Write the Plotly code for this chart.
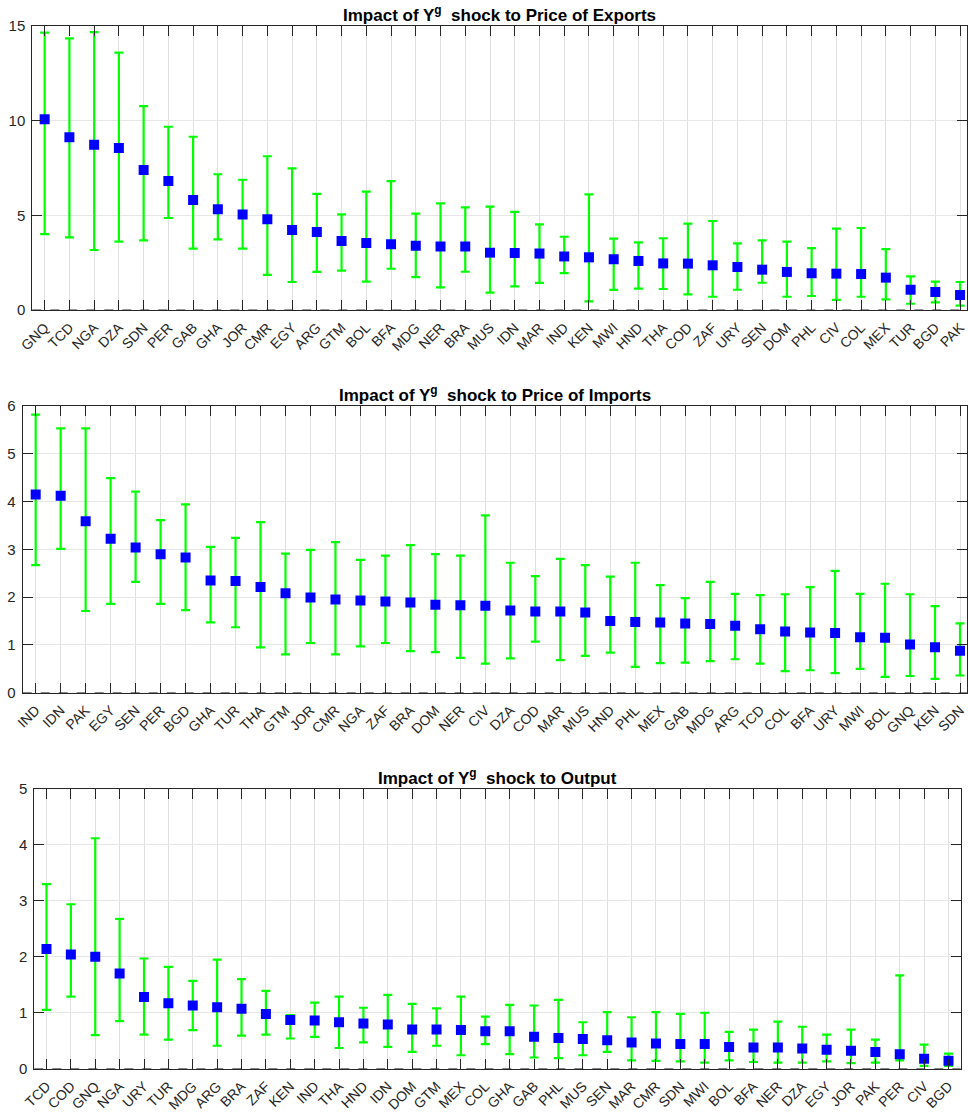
import plotly.graph_objects as go

# ---------------- Panel 1: Price of Exports ----------------
exp_countries = ["GNQ","TCD","NGA","DZA","SDN","PER","GAB","GHA","JOR","CMR","EGY","ARG","GTM","BOL","BFA","MDG","NER","BRA","MUS",
                 "IDN","MAR","IND","KEN","MWI","HND","THA","COD","ZAF","URY","SEN","DOM","PHL","CIV","COL","MEX","TUR","BGD","PAK"]
exp_mid = [10.07,9.12,8.73,8.56,7.39,6.81,5.81,5.32,5.05,4.79,4.23,4.12,3.64,3.54,3.47,3.40,3.36,3.35,3.03,
           3.01,2.98,2.83,2.78,2.68,2.59,2.46,2.45,2.36,2.27,2.13,2.01,1.94,1.92,1.90,1.71,1.07,0.95,0.79]
exp_hi = [14.65,14.35,14.68,13.59,10.77,9.68,9.15,7.17,6.88,8.12,7.48,6.13,5.05,6.25,6.81,5.09,5.63,5.42,5.46,
          5.18,4.52,3.87,6.11,3.77,3.57,3.79,4.56,4.70,3.52,3.68,3.61,3.27,4.30,4.33,3.22,1.78,1.50,1.48]
exp_lo = [4.01,3.84,3.17,3.61,3.68,4.86,3.24,3.73,3.24,1.85,1.48,2.01,2.08,1.50,2.18,1.74,1.20,2.02,0.92,
          1.25,1.43,1.95,0.46,1.06,1.13,1.11,0.83,0.70,1.07,1.44,0.70,0.74,0.53,0.70,0.56,0.33,0.40,0.23]

# ---------------- Panel 2: Price of Imports ----------------
imp_countries = ["IND","IDN","PAK","EGY","SEN","PER","BGD","GHA","TUR","THA","GTM","JOR","CMR","NGA","ZAF","BRA","DOM","NER","CIV",
                 "DZA","COD","MAR","MUS","HND","PHL","MEX","GAB","MDG","ARG","TCD","COL","BFA","URY","MWI","BOL","GNQ","KEN","SDN"]
imp_mid = [4.15,4.12,3.59,3.22,3.04,2.90,2.83,2.35,2.34,2.21,2.08,1.99,1.95,1.93,1.91,1.89,1.84,1.83,1.82,
           1.72,1.70,1.70,1.68,1.50,1.48,1.47,1.45,1.44,1.40,1.33,1.28,1.26,1.25,1.16,1.15,1.01,0.95,0.88]
imp_hi = [5.82,5.53,5.53,4.49,4.21,3.61,3.94,3.05,3.24,3.57,2.91,2.99,3.15,2.78,2.87,3.09,2.90,2.87,3.71,
          2.72,2.44,2.80,2.67,2.43,2.72,2.25,1.98,2.32,2.07,2.04,2.06,2.21,2.55,2.07,2.28,2.06,1.81,1.45]
imp_lo = [2.67,3.01,1.71,1.86,2.32,1.86,1.73,1.47,1.37,0.95,0.80,1.04,0.80,0.97,1.04,0.87,0.85,0.73,0.61,
          0.72,1.07,0.68,0.77,0.84,0.54,0.62,0.63,0.66,0.70,0.61,0.45,0.47,0.41,0.50,0.33,0.35,0.29,0.36]

# ---------------- Panel 3: Output ----------------
out_countries = ["TCD","COD","GNQ","NGA","URY","TUR","MDG","ARG","BRA","ZAF","KEN","IND","THA","HND","IDN","DOM","GTM","MEX","COL",
                 "GHA","GAB","PHL","MUS","SEN","MAR","CMR","SDN","MWI","BOL","BFA","NER","DZA","EGY","JOR","PAK","PER","CIV","BGD"]
out_mid = [2.14,2.04,2.00,1.70,1.28,1.17,1.13,1.10,1.07,0.98,0.87,0.86,0.83,0.81,0.79,0.70,0.70,0.69,0.67,
           0.67,0.57,0.55,0.53,0.51,0.47,0.45,0.44,0.44,0.39,0.38,0.38,0.36,0.34,0.32,0.30,0.26,0.18,0.14]
out_hi = [3.30,2.94,4.12,2.68,1.97,1.82,1.57,1.95,1.60,1.39,0.96,1.18,1.29,1.09,1.32,1.16,1.08,1.29,0.93,
          1.14,1.13,1.23,0.83,1.01,0.92,1.01,0.98,1.00,0.66,0.70,0.84,0.75,0.61,0.70,0.52,1.67,0.43,0.27]
out_lo = [1.05,1.29,0.60,0.85,0.61,0.52,0.69,0.41,0.59,0.61,0.54,0.57,0.37,0.47,0.39,0.30,0.41,0.24,0.44,
          0.26,0.20,0.19,0.24,0.30,0.15,0.14,0.13,0.11,0.15,0.12,0.11,0.11,0.13,0.10,0.11,0.15,0.05,0.05]

titles = ["Impact of Y<sup>g</sup>\u00a0 shock to Price of Exports",
          "Impact of Y<sup>g</sup>\u00a0 shock to Price of Imports",
          "Impact of Y<sup>g</sup>\u00a0 shock to Output"]

W, H = 968, 1113
# pixel boxes: left, right, top, bottom
boxes = [(32.3, 967.0, 26.0, 310.0), (22.7, 967.0, 406.0, 692.7), (34.3, 960.7, 789.0, 1068.7)]
yranges = [[0, 15], [0, 6], [0, 5]]
ydticks = [5, 1, 1]
xranges = [[-0.5, 37.28], [-0.52, 37.28], [-0.5, 37.5]]

panels = [(exp_countries, exp_mid, exp_hi, exp_lo),
          (imp_countries, imp_mid, imp_hi, imp_lo),
          (out_countries, out_mid, out_hi, out_lo)]

fig = go.Figure()
axcol = "#262626"
font_family = "Liberation Sans, Arial, Helvetica, sans-serif"

for i, (cats, mid, hi, lo) in enumerate(panels):
    n = i + 1
    xa = "x" if n == 1 else f"x{n}"
    ya = "y" if n == 1 else f"y{n}"
    plus = [h - m for h, m in zip(hi, mid)]
    minus = [m - l for m, l in zip(mid, lo)]
    fig.add_trace(go.Scatter(
        x=cats, y=mid, mode="markers", xaxis=xa, yaxis=ya, showlegend=False,
        marker=dict(symbol="square", size=10, color="#0000ff", line=dict(width=0)),
        error_y=dict(type="data", symmetric=False, array=plus, arrayminus=minus,
                     color="#00ff00", thickness=2.2, width=4.5),
    ))
    l, r, t, b = boxes[i]
    xdom = [l / W, r / W]
    ydom = [1 - b / H, 1 - t / H]
    common_x = dict(domain=xdom, anchor=ya, range=xranges[i], type="category",
                    showline=True, linecolor=axcol, linewidth=1, mirror="ticks",
                    ticks="inside", ticklen=10, tickcolor=axcol, tickwidth=1,
                    showgrid=True, gridcolor="#e0e0e0", gridwidth=1,
                    tickangle=-45, tickfont=dict(size=14, color=axcol, family=font_family),
                    ticklabelstandoff=3,
                    automargin=False, zeroline=False, fixedrange=True)
    common_y = dict(domain=ydom, anchor=xa, range=yranges[i], dtick=ydticks[i], tick0=0,
                    showline=True, linecolor=axcol, linewidth=1, mirror="ticks",
                    ticks="inside", ticklen=10, tickcolor=axcol, tickwidth=1,
                    showgrid=True, gridcolor="#e6e6e6", gridwidth=1,
                    tickfont=dict(size=15, color=axcol, family=font_family),
                    ticklabelstandoff=3,
                    automargin=False, zeroline=False, fixedrange=True)
    fig.update_layout(**{("xaxis" if n == 1 else f"xaxis{n}"): common_x,
                         ("yaxis" if n == 1 else f"yaxis{n}"): common_y})
    # dashed zero reference line
    fig.add_shape(type="line", xref=f"{xa} domain", yref=ya, x0=0, x1=1, y0=0, y1=0,
                  line=dict(color="#333333", width=1, dash="dash"), layer="above")
    # panel title
    fig.add_annotation(text=f"<b>{titles[i]}</b>", xref="paper", yref="paper",
                       x=(l + r) / 2 / W, y=1 - t / H, xanchor="center", yanchor="bottom",
                       yshift=-1, showarrow=False,
                       font=dict(size=17, color="#000000", family=font_family))

fig.update_layout(width=W, height=H, margin=dict(l=0, r=0, t=0, b=0),
                  paper_bgcolor="white", plot_bgcolor="white",
                  font=dict(family=font_family, color=axcol))

fig.write_html("out.html", config={"displayModeBar": False, "staticPlot": True},
               post_script="document.body.style.margin='0px';document.body.style.overflow='hidden';")
